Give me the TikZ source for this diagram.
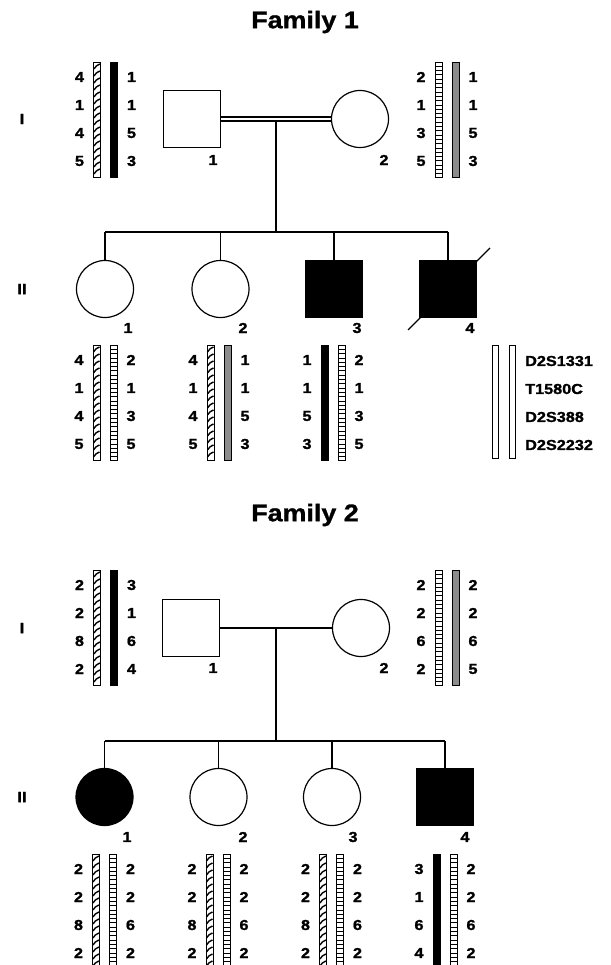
\documentclass[tikz,border=0pt]{standalone}
\usepackage{fontspec}
\newfontfamily\hv[FakeStretch=1.12, BoldFeatures={FakeBold=1.2}]{Liberation Sans}
\tikzset{
  sym/.style={draw, line width=1.2pt, fill=white, inner sep=0pt, minimum size=57pt},
  sqr/.style={sym, rectangle},
  circ/.style={sym, circle},
  aff/.style={fill=black},
  num/.style={font=\hv\bfseries\fontsize{14.5}{15}\selectfont, inner sep=0pt},
  leg/.style={font=\hv\bfseries\fontsize{14.5}{15}\selectfont, inner sep=0pt, anchor=west},
  ttl/.style={font=\hv\bfseries\fontsize{24}{26}\selectfont, inner sep=0pt},
  gen/.style={font=\hv\bfseries\fontsize{15}{16}\selectfont, inner sep=0pt},
  con/.style={line width=1.1pt},
  bord/.style={line width=0.9pt}
}
\newcommand{\barHatch}[2]{%
  \draw[bord, fill=white] (#1-3.5,#2) rectangle (#1+3.5,#2+115);
  \foreach \k in {0,...,15}{\draw[line width=1.4pt] (#1-3,#2+7+7*\k) .. controls (#1-1,#2+4+7*\k) .. (#1+3,#2+2+7*\k);}
}
\newcommand{\barLadder}[2]{%
  \draw[bord, fill=white] (#1-3.5,#2) rectangle (#1+3.5,#2+115);
  \foreach \k in {1,...,26}{\draw[line width=0.8pt] (#1-3.5,#2+4.3*\k) -- (#1+3.5,#2+4.3*\k);}
}
\newcommand{\barGrey}[2]{%
  \draw[bord, fill=black!45] (#1-3.5,#2) rectangle (#1+3.5,#2+115);
}
\newcommand{\barBlack}[2]{%
  \draw[bord, fill=black] (#1-3.5,#2) rectangle (#1+3.5,#2+115);
}
\newcommand{\barOpen}[2]{%
  \draw[bord, fill=white] (#1-3,#2) rectangle (#1+3,#2+113);
}
% #1 name, #2 centre x, #3 top y, #4 left bar, #5 right bar, #6 list l/r
\newcommand{\hap}[6]{%
  #4{#2-8.5}{#3}
  #5{#2+8.5}{#3}
  \foreach \l/\r [count=\k from 0] in {#6}{
    \node[num] (#1l\k) at (#2-26,#3+15+28*\k) {\l};
    \node[num] (#1r\k) at (#2+26,#3+15+28*\k) {\r};
  }
}
\begin{document}
\begin{tikzpicture}[x=1pt,y=-1pt]
\useasboundingbox (0,0) rectangle (610,965);
\fill[white] (0,0) rectangle (610,965);

% ================= Family 1 =================
\node[ttl] (t1) at (305,22) {Family 1};
\node[gen] (g1a) at (22,119) {I};
\node[gen] (g1b) at (22,289) {II};

\node[sqr] (a1) at (192,119) {};
\node[circ] (a2) at (360,119) {};
\node[num] (a1n) at (213,160) {1};
\node[num] (a2n) at (384,160) {2};
\draw[con] ([yshift=2pt]a1.east) -- ([yshift=2pt]a2.west);
\draw[con] ([yshift=-2pt]a1.east) -- ([yshift=-2pt]a2.west);
\coordinate (m1) at (276,121);
\coordinate (s1) at (276,232);
\draw[con] (m1) -- (s1);

\node[circ] (b1) at (105,289) {};
\node[circ] (b2) at (220.5,289) {};
\node[sqr, aff] (b3) at (334,289) {};
\node[sqr, aff] (b4) at (448,289) {};
\coordinate (sl1) at (105,232);
\coordinate (sr1) at (448,232);
\draw[con] (sl1) -- (sr1);
\draw[con] (sl1) -- (b1.north);
\draw[con] (220.5,232) -- (b2.north);
\draw[con] (334,232) -- (b3.north);
\draw[con] (sr1) -- (b4.north);
\coordinate (d1) at (408,330);
\coordinate (d2) at (490,248);
\draw[con] (d1) -- (d2);
\node[num] (b1n) at (128,328) {1};
\node[num] (b2n) at (243,328) {2};
\node[num] (b3n) at (357,328) {3};
\node[num] (b4n) at (470,328) {4};

\hap{ha}{105.5}{62}{\barHatch}{\barBlack}{4/1,1/1,4/5,5/3}
\hap{hb}{447}{62}{\barLadder}{\barGrey}{2/1,1/1,3/5,5/3}
\hap{hc}{105}{345}{\barHatch}{\barLadder}{4/2,1/1,4/3,5/5}
\hap{hd}{219}{345}{\barHatch}{\barGrey}{4/1,1/1,4/5,5/3}
\hap{he}{333}{345}{\barBlack}{\barLadder}{1/2,1/1,5/3,3/5}

% legend
\barOpen{495}{345}
\barOpen{512}{345}
\node[leg] (L1) at (525,361) {D2S1331};
\node[leg] (L2) at (525,389) {T1580C};
\node[leg] (L3) at (525,417) {D2S388};
\node[leg] (L4) at (525,445) {D2S2232};

% ================= Family 2 =================
\node[ttl] (t2) at (305,515) {Family 2};
\node[gen] (g2a) at (22,628) {I};
\node[gen] (g2b) at (22,797) {II};

\node[sqr] (p1) at (191,628) {};
\node[circ] (p2) at (361,628) {};
\node[num] (p1n) at (213,668) {1};
\node[num] (p2n) at (384,668) {2};
\draw[con] (p1.east) -- (p2.west);
\coordinate (m2) at (276,628);
\coordinate (s2) at (276,741);
\draw[con] (m2) -- (s2);

\node[circ, aff] (c1) at (104.5,797) {};
\node[circ] (c2) at (218.5,797) {};
\node[circ] (c3) at (332,797) {};
\node[sqr, aff] (c4) at (445,797) {};
\coordinate (sl2) at (104.5,741);
\coordinate (sr2) at (445,741);
\draw[con] (sl2) -- (sr2);
\draw[con] (sl2) -- (c1.north);
\draw[con] (218.5,741) -- (c2.north);
\draw[con] (332,741) -- (c3.north);
\draw[con] (sr2) -- (c4.north);
\node[num] (c1n) at (127,837) {1};
\node[num] (c2n) at (243,837) {2};
\node[num] (c3n) at (353,837) {3};
\node[num] (c4n) at (465,837) {4};

\hap{hf}{105.5}{570}{\barHatch}{\barBlack}{2/3,2/1,8/6,2/4}
\hap{hg}{447}{570}{\barLadder}{\barGrey}{2/2,2/2,6/6,2/5}
\hap{hh}{104.5}{854}{\barHatch}{\barLadder}{2/2,2/2,8/6,2/2}
\hap{hi}{218}{854}{\barHatch}{\barLadder}{2/2,2/2,8/6,2/2}
\hap{hj}{331.5}{854}{\barHatch}{\barLadder}{2/2,2/2,8/6,2/2}
\hap{hk}{445}{854}{\barBlack}{\barLadder}{3/2,1/2,6/6,4/2}
\end{tikzpicture}
\end{document}
